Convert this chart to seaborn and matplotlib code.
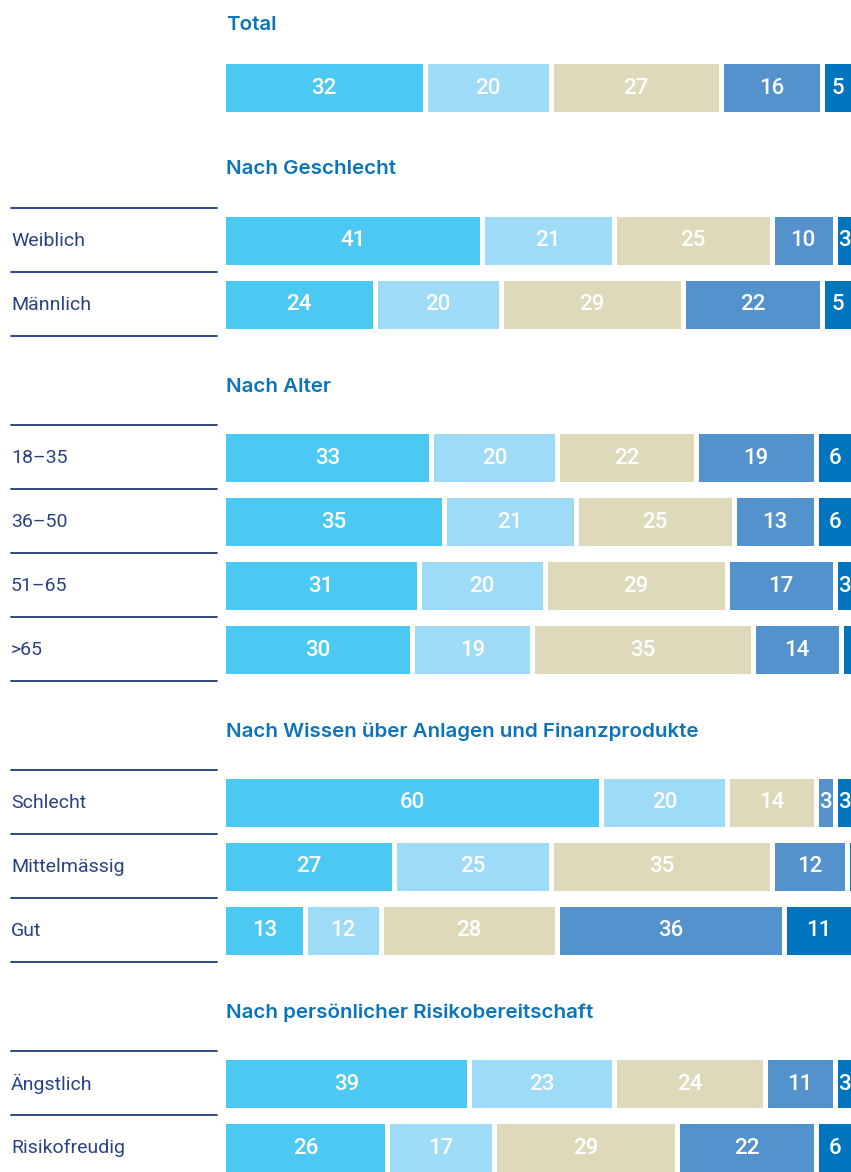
import matplotlib
matplotlib.use("Agg")
import matplotlib.pyplot as plt
import seaborn as sns
import pandas as pd

sns.set_style("white")
plt.rcParams['font.family'] = ['Roboto', 'DejaVu Sans']

# data
group_titles = ["Total", "Nach Geschlecht", "Nach Alter",
                "Nach Wissen über Anlagen und Finanzprodukte",
                "Nach persönlicher Risikobereitschaft"]
row_labels = ["", "Weiblich", "Männlich", "18–35", "36–50", "51–65", ">65",
              "Schlecht", "Mittelmässig", "Gut", "Ängstlich", "Risikofreudig"]
row_group = [0, 1, 1, 2, 2, 2, 2, 3, 3, 3, 4, 4]
seg1 = [32, 41, 24, 33, 35, 31, 30, 60, 27, 13, 39, 26]
seg2 = [20, 21, 20, 20, 21, 20, 19, 20, 25, 12, 23, 17]
seg3 = [27, 25, 29, 22, 25, 29, 35, 14, 35, 28, 24, 29]
seg4 = [16, 10, 22, 19, 13, 17, 14, 3, 12, 36, 11, 22]
seg5 = [5, 3, 5, 6, 6, 3, 2, 3, 1, 11, 3, 6]
segments = [seg1, seg2, seg3, seg4, seg5]
colors = ["#4CC9F3", "#9EDBF7", "#DFD9BC", "#5392CD", "#0075BE"]

W, H = 851, 1172
ORIGIN = 223.5      # pixel where value 0 sits
PX = 6.3            # pixels per percentage point
ROW = 64

# vertical layout in pixels
ypix, header_y, line_y = [], [], []
for i, g in enumerate(row_group):
    if i == 0:
        header_y.append(23)
        ypix.append(87)
    elif g != row_group[i - 1]:
        h = ypix[-1] + 81
        header_y.append(h)
        line_y.append(h + 40)
        ypix.append(h + 40 + ROW / 2)
    else:
        ypix.append(ypix[-1] + ROW)
    if g != 0:
        line_y.append(ypix[-1] + ROW / 2)

df = pd.DataFrame({"label": row_labels, "y": ypix})
cum = [0] * len(row_labels)
starts = []
for seg in segments:
    starts.append(list(cum))
    cum = [c + v for c, v in zip(cum, seg)]
    df[f"end{len(starts)}"] = cum

fig = plt.figure(figsize=(W / 100, H / 100), dpi=100)
ax = fig.add_axes([0, 0, 1, 1])

# stacked bars: draw cumulative totals longest first, white edges make the gaps
for k in reversed(range(len(segments))):
    sns.barplot(data=df, x=f"end{k + 1}", y="y", orient="y", native_scale=True,
                color=colors[k], saturation=1, width=53 / ROW, errorbar=None,
                edgecolor="white", linewidth=3.6, ax=ax)

ax.set_xlim(-ORIGIN / PX, (W - ORIGIN) / PX)
ax.set_ylim(H, 0)
ax.axis("off")

# value labels (those running off the right edge are not shown)
for k, seg in enumerate(segments):
    for i, v in enumerate(seg):
        cx = starts[k][i] + v / 2
        if ORIGIN + cx * PX > W - 6:
            continue
        ax.text(cx, ypix[i] + 1, str(v), color="white",
                ha="center", va="center", fontsize=16, fontweight="medium")

tr = ax.get_yaxis_transform()
for t, hy in zip(group_titles, header_y):
    ax.text(226 / W, hy + 1.5, t, transform=tr, color="#0B74BB", fontsize=14.8,
            fontweight="semibold", family=["Inter", "DejaVu Sans"],
            ha="left", va="center")

for lab, y, g in zip(row_labels, ypix, row_group):
    if g:
        ax.text(11 / W, y + 1, lab, transform=tr, color="#2B4282", fontsize=14,
                ha="left", va="center")

for ly in line_y:
    ax.plot([11 / W, 217 / W], [ly, ly], transform=tr, color="#1E3A7A",
            linewidth=1.3, clip_on=False)

fig.savefig("out.png", dpi=100)
